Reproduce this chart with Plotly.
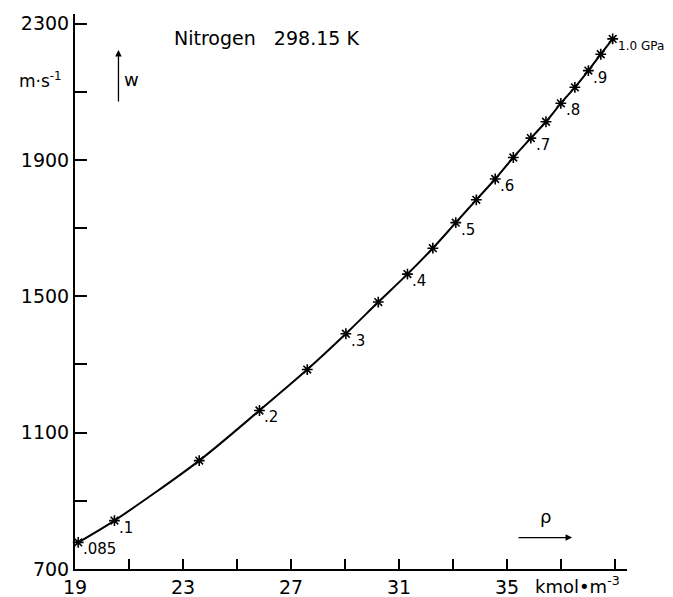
import plotly.graph_objects as go

# Data
density = [19.12, 20.46, 23.60, 25.83, 27.60, 29.03, 30.23, 31.31, 32.25, 33.10,
           33.86, 34.56, 35.23, 35.88, 36.44, 36.99, 37.51, 38.01, 38.47, 38.91]
speed = [778, 842, 1018, 1165, 1285, 1390, 1483, 1565, 1641, 1716,
         1783, 1844, 1907, 1964, 2012, 2066, 2113, 2162, 2210, 2255]
pressure_labels = [".085", ".1", "", ".2", "", ".3", "", ".4", "", ".5",
                   "", ".6", "", ".7", "", ".8", "", ".9", "", "1.0 GPa"]

x_tickvals = [19, 21, 23, 25, 27, 29, 31, 33, 35, 37, 39]
x_ticktext = ["19", "", "23", "", "27", "", "31", "", "35", "", ""]
y_tickvals = [700, 900, 1100, 1300, 1500, 1700, 1900, 2100, 2300]
y_ticktext = ["700", "", "1100", "", "1500", "", "1900", "", "2300"]

FONT = "DejaVu Sans"
OFF = 8  # page body margin
W, H = 673 - OFF, 597 - OFF
PL, PR, PT, PB = 74.5, 627, 14, 569.5  # plot area in page pixels
L, T = PL - OFF, PT - OFF
R, B = W - (PR - OFF), H - (PB - OFF)
PW, PH = PR - PL, PB - PT


def px(xp):
    return (xp - PL) / PW


def py(yp):
    return (PB - yp) / PH


fig = go.Figure()
fig.add_trace(go.Scatter(
    x=density, y=speed, mode="lines",
    line=dict(color="black", width=2, shape="spline", smoothing=0.8),
    hoverinfo="skip", showlegend=False))
fig.add_trace(go.Scatter(
    x=density, y=speed, mode="markers",
    marker=dict(symbol="asterisk-open", size=9, color="black",
                line=dict(color="black", width=1.6)),
    showlegend=False, cliponaxis=False))

annotations = []
for xv, yv, lab in zip(density, speed, pressure_labels):
    if not lab:
        continue
    big = lab.startswith("1.0")
    annotations.append(dict(
        x=xv, y=yv, xref="x", yref="y", text=lab, showarrow=False,
        xanchor="left", yanchor="middle",
        xshift=3, yshift=-7,
        font=dict(family=FONT, size=12 if big else 15, color="black")))

annotations += [
    dict(x=px(172), y=py(38), xref="paper", yref="paper",
         text="Nitrogen\u00a0\u00a0\u00a0298.15\u00a0K", showarrow=False,
         xanchor="left", yanchor="middle",
         font=dict(family=FONT, size=19, color="black")),
    dict(x=px(63), y=py(80), xref="paper", yref="paper",
         text="m·s<sup>-1</sup>", showarrow=False,
         xanchor="right", yanchor="middle",
         font=dict(family=FONT, size=17, color="black")),
    dict(x=px(122), y=py(80), xref="paper", yref="paper",
         text="w", showarrow=False, xanchor="left", yanchor="middle",
         font=dict(family=FONT, size=18, color="black")),
    dict(x=px(118), y=py(50), xref="paper", yref="paper", text="",
         showarrow=True, ax=0, ay=53, arrowhead=2, arrowsize=1,
         arrowwidth=1.3, arrowcolor="black"),
    dict(x=px(545), y=py(517), xref="paper", yref="paper",
         text="ρ", showarrow=False, xanchor="center", yanchor="middle",
         font=dict(family=FONT, size=18, color="black")),
    dict(x=px(572), y=py(538), xref="paper", yref="paper", text="",
         showarrow=True, ax=-55, ay=0, arrowhead=2, arrowsize=1,
         arrowwidth=1.3, arrowcolor="black"),
    dict(x=px(533), y=py(586), xref="paper", yref="paper",
         text="kmol•m<sup>-3</sup>", showarrow=False,
         xanchor="left", yanchor="middle",
         font=dict(family=FONT, size=18, color="black")),
]

fig.update_layout(
    width=W, height=H,
    margin=dict(l=L, r=R, t=T, b=B, pad=0),
    paper_bgcolor="white", plot_bgcolor="white",
    font=dict(family=FONT, size=19, color="black"),
    annotations=annotations,
    xaxis=dict(range=[19, 39.44], showgrid=False, zeroline=False,
               automargin=False,
               showline=True, linecolor="black", linewidth=2,
               ticks="inside", ticklen=10, tickwidth=1.5, tickcolor="black",
               tickvals=x_tickvals, ticktext=x_ticktext,
               tickfont=dict(family=FONT, size=19)),
    yaxis=dict(range=[700, 2328], showgrid=False, zeroline=False,
               automargin=False,
               showline=True, linecolor="black", linewidth=2,
               ticks="inside", ticklen=12, tickwidth=1.5, tickcolor="black",
               tickvals=y_tickvals, ticktext=y_ticktext,
               tickfont=dict(family=FONT, size=19)),
)

fig.write_html("out.html")
